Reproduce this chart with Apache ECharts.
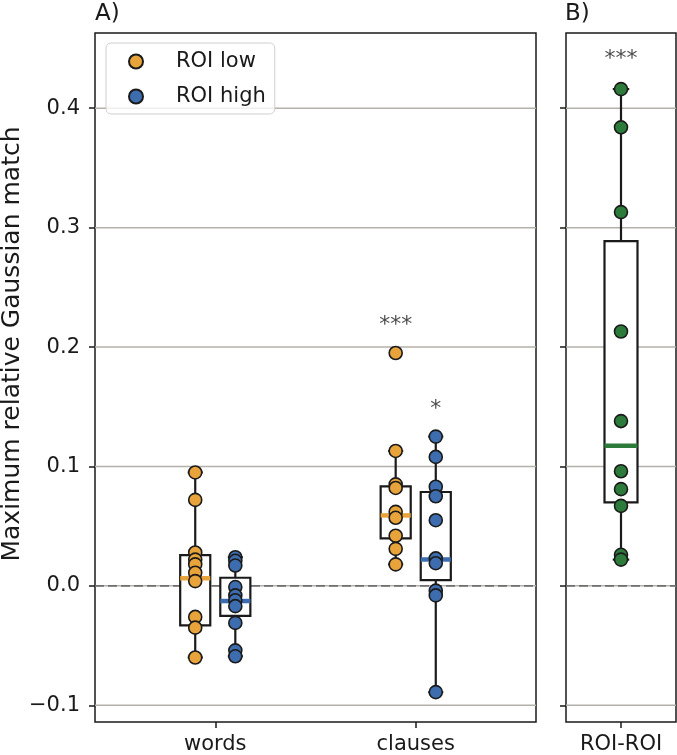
<!DOCTYPE html>
<html>
<head>
<meta charset="utf-8">
<script src="https://cdn.jsdelivr.net/npm/echarts@6/dist/echarts.min.js"></script>
<style>
html, body { margin: 0; padding: 0; background: #fff; }
#chartmain { width: 677px; height: 755px; }
</style>
</head>
<body>
<div id="chartmain"></div>
<script>
// categories / ticks
var categories = ['words', 'clauses'];
var categoriesB = ['ROI-ROI'];
var yTicks = [-0.1, 0, 0.1, 0.2, 0.3, 0.4];

// single points
var wordsLow = [0.095, 0.072, 0.028, 0.022, 0.018, 0.011, 0.004, -0.026, -0.035, -0.060];
var wordsHigh = [0.024, 0.021, 0.017, -0.001, -0.008, -0.012, -0.017, -0.031, -0.054, -0.059];
var clausesLow = [0.195, 0.113, 0.085, 0.082, 0.062, 0.057, 0.042, 0.031, 0.018];
var clausesHigh = [0.125, 0.108, 0.083, 0.075, 0.055, 0.023, 0.019, -0.004, -0.008, -0.089];
var roiRoi = [0.416, 0.384, 0.313, 0.213, 0.138, 0.096, 0.081, 0.067, 0.026, 0.022];

// box stats [whisker low, q1, median, q3, whisker high], per category
var boxLow = [[-0.060, -0.033, 0.0064, 0.0257, 0.095], [0.018, 0.0397, 0.059, 0.0833, 0.113]];
var boxHigh = [[-0.059, -0.0252, -0.0127, 0.0068, 0.024], [-0.089, 0.0048, 0.0221, 0.0786, 0.125]];
var boxRoi = [[0.022, 0.070, 0.1173, 0.2887, 0.416]];

// significance stars
var starsA = ['***', '*'];
var starsAy = [0.218, 0.148];
var starsB = ['***'];
var starsBy = [0.441];

var ORANGE = '#E8A33B';
var BLUE = '#3D6DAE';
var GREEN = '#2D7B3B';
var DARK = '#1a1a1a';
var OFF = 0.1;      // dodge of low/high
var BOX_W = 0.15;

function pts(vals, x) {
	return vals.map(function (v) { return [x, v]; });
}

function gridLineRender(params, api) {
	var cs = params.coordSys;
	var y = api.coord([api.value(0), api.value(1)])[1];
	var kids = [{
		type: 'line',
		shape: { x1: cs.x, y1: y, x2: cs.x + cs.width, y2: y },
		style: { stroke: '#b4b0aa', lineWidth: 1.5 }
	}];
	if (api.value(1) === 0) {
		kids.push({
			type: 'line',
			shape: { x1: cs.x, y1: y, x2: cs.x + cs.width, y2: y },
			style: { stroke: '#707070', lineWidth: 1.8, lineDash: [9, 4] }
		});
	}
	return { type: 'group', children: kids };
}

function boxRender(color) {
	return function (params, api) {
		var x = api.value(0);
		var half = api.size([BOX_W, 0])[0] / 2;
		var cap = half / 2;
		var lo = api.coord([x, api.value(1)]);
		var q1 = api.coord([x, api.value(2)]);
		var md = api.coord([x, api.value(3)]);
		var q3 = api.coord([x, api.value(4)]);
		var hi = api.coord([x, api.value(5)]);
		var cx = lo[0];
		var st = { stroke: DARK, lineWidth: 2.2 };
		return {
			type: 'group',
			children: [
				{ type: 'line', shape: { x1: cx, y1: lo[1], x2: cx, y2: q1[1] }, style: st },
				{ type: 'line', shape: { x1: cx, y1: q3[1], x2: cx, y2: hi[1] }, style: st },
				{ type: 'line', shape: { x1: cx - cap, y1: lo[1], x2: cx + cap, y2: lo[1] }, style: st },
				{ type: 'line', shape: { x1: cx - cap, y1: hi[1], x2: cx + cap, y2: hi[1] }, style: st },
				{ type: 'rect', shape: { x: cx - half, y: q3[1], width: half * 2, height: q1[1] - q3[1] },
					style: { fill: '#fff', stroke: DARK, lineWidth: 2.2 } },
				{ type: 'line', shape: { x1: cx - half, y1: md[1], x2: cx + half, y2: md[1] },
					style: { stroke: color, lineWidth: 4.5 } }
			]
		};
	};
}

function scatterStyle(color) {
	return { color: color, borderColor: DARK, borderWidth: 1.6, opacity: 1 };
}

var tickFont = { fontSize: 21, color: DARK, fontFamily: 'DejaVu Sans' };
var tickLine = { length: 6, lineStyle: { color: DARK, width: 1.5 } };

var option = {
	animation: false,
	title: [
		{ text: 'A)', left: 95, top: 3, padding: 0, textStyle: { fontSize: 23, fontWeight: 'normal', color: DARK, fontFamily: 'DejaVu Sans' } },
		{ text: 'B)', left: 565, top: 3, padding: 0, textStyle: { fontSize: 23, fontWeight: 'normal', color: DARK, fontFamily: 'DejaVu Sans' } }
	],
	legend: {
		data: ['ROI low', 'ROI high'],
		orient: 'vertical',
		left: 106,
		top: 43,
		padding: [8, 9, 7, 22],
		itemGap: 14,
		itemWidth: 14,
		itemHeight: 14,
		icon: 'circle',
		borderColor: '#cfcfcf',
		borderWidth: 1,
		borderRadius: 5,
		backgroundColor: 'rgba(255,255,255,0.8)',
		textStyle: { fontSize: 21, color: DARK, fontFamily: 'DejaVu Sans', padding: [0, 0, 0, 28] }
	},
	graphic: [{
		type: 'text',
		x: 12,
		y: 344,
		rotation: Math.PI / 2,
		style: {
			text: 'Maximum relative Gaussian match',
			font: '25px "DejaVu Sans"',
			fill: DARK,
			textAlign: 'center',
			textVerticalAlign: 'middle'
		}
	}],
	grid: [
		{ left: 95, top: 33, width: 441, height: 690, show: true, borderColor: DARK, borderWidth: 1.5 },
		{ left: 566, top: 33, width: 110, height: 690, show: true, borderColor: DARK, borderWidth: 1.5 }
	],
	xAxis: [
		{
			type: 'value', gridIndex: 0, min: -0.6, max: 1.6, position: 'bottom',
			axisLine: { show: false, onZero: false },
			splitLine: { show: false },
			axisTick: Object.assign({ customValues: [0, 1] }, tickLine),
			axisLabel: Object.assign({ customValues: [0, 1], margin: 12,
				formatter: function (v) { return categories[Math.round(v)]; } }, tickFont)
		},
		{
			type: 'value', gridIndex: 1, min: -0.25, max: 0.25, position: 'bottom',
			axisLine: { show: false, onZero: false },
			splitLine: { show: false },
			axisTick: Object.assign({ customValues: [0] }, tickLine),
			axisLabel: Object.assign({ customValues: [0], margin: 12,
				formatter: function (v) { return categoriesB[Math.round(v)]; } }, tickFont)
		}
	],
	yAxis: [
		{
			type: 'value', gridIndex: 0, min: -0.114, max: 0.463, position: 'left',
			axisLine: { show: false, onZero: false },
			splitLine: { show: false },
			axisTick: Object.assign({ customValues: yTicks }, tickLine),
			axisLabel: Object.assign({ customValues: yTicks, margin: 15,
				formatter: function (v) { return (v < 0 ? '\u2212' : '') + Math.abs(v).toFixed(1); } }, tickFont)
		},
		{
			type: 'value', gridIndex: 1, min: -0.114, max: 0.463, position: 'left',
			axisLine: { show: false, onZero: false },
			splitLine: { show: false },
			axisTick: Object.assign({ customValues: yTicks }, tickLine),
			axisLabel: { show: false }
		}
	],
	series: [
		{ type: 'custom', xAxisIndex: 0, yAxisIndex: 0, z: 1, silent: true,
			data: yTicks.map(function (v) { return [0, v]; }), renderItem: gridLineRender },
		{ type: 'custom', xAxisIndex: 1, yAxisIndex: 1, z: 1, silent: true,
			data: yTicks.map(function (v) { return [0, v]; }), renderItem: gridLineRender },
		{ type: 'custom', xAxisIndex: 0, yAxisIndex: 0, z: 2, silent: true,
			encode: { x: 0, y: [1, 2, 3, 4, 5] },
			data: boxLow.map(function (b, i) { return [i - OFF].concat(b); }), renderItem: boxRender(ORANGE) },
		{ type: 'custom', xAxisIndex: 0, yAxisIndex: 0, z: 2, silent: true,
			encode: { x: 0, y: [1, 2, 3, 4, 5] },
			data: boxHigh.map(function (b, i) { return [i + OFF].concat(b); }), renderItem: boxRender(BLUE) },
		{ type: 'custom', xAxisIndex: 1, yAxisIndex: 1, z: 2, silent: true,
			encode: { x: 0, y: [1, 2, 3, 4, 5] },
			data: boxRoi.map(function (b, i) { return [i].concat(b); }), renderItem: boxRender(GREEN) },
		{ name: 'ROI low', type: 'scatter', xAxisIndex: 0, yAxisIndex: 0, z: 3,
			symbolSize: 13, itemStyle: scatterStyle(ORANGE),
			data: pts(wordsLow, 0 - OFF).concat(pts(clausesLow, 1 - OFF)) },
		{ name: 'ROI high', type: 'scatter', xAxisIndex: 0, yAxisIndex: 0, z: 3,
			symbolSize: 13, itemStyle: scatterStyle(BLUE),
			data: pts(wordsHigh, 0 + OFF).concat(pts(clausesHigh, 1 + OFF)) },
		{ name: 'ROI-ROI', type: 'scatter', xAxisIndex: 1, yAxisIndex: 1, z: 3,
			symbolSize: 13, itemStyle: scatterStyle(GREEN),
			data: pts(roiRoi, 0) },
		{ type: 'scatter', xAxisIndex: 0, yAxisIndex: 0, z: 4, silent: true, symbolSize: 0,
			data: [[1 - OFF, starsAy[0]], [1 + OFF, starsAy[1]]],
			label: { show: true, position: 'inside', fontSize: 22, color: DARK, fontFamily: 'DejaVu Sans',
				formatter: function (p) { return starsA[p.dataIndex]; } } },
		{ type: 'scatter', xAxisIndex: 1, yAxisIndex: 1, z: 4, silent: true, symbolSize: 0,
			data: [[0, starsBy[0]]],
			label: { show: true, position: 'inside', fontSize: 22, color: DARK, fontFamily: 'DejaVu Sans',
				formatter: function (p) { return starsB[p.dataIndex]; } } }
	]
};

var myChart = echarts.init(document.getElementById('chartmain'));
myChart.setOption(option);
</script>
</body>
</html>
